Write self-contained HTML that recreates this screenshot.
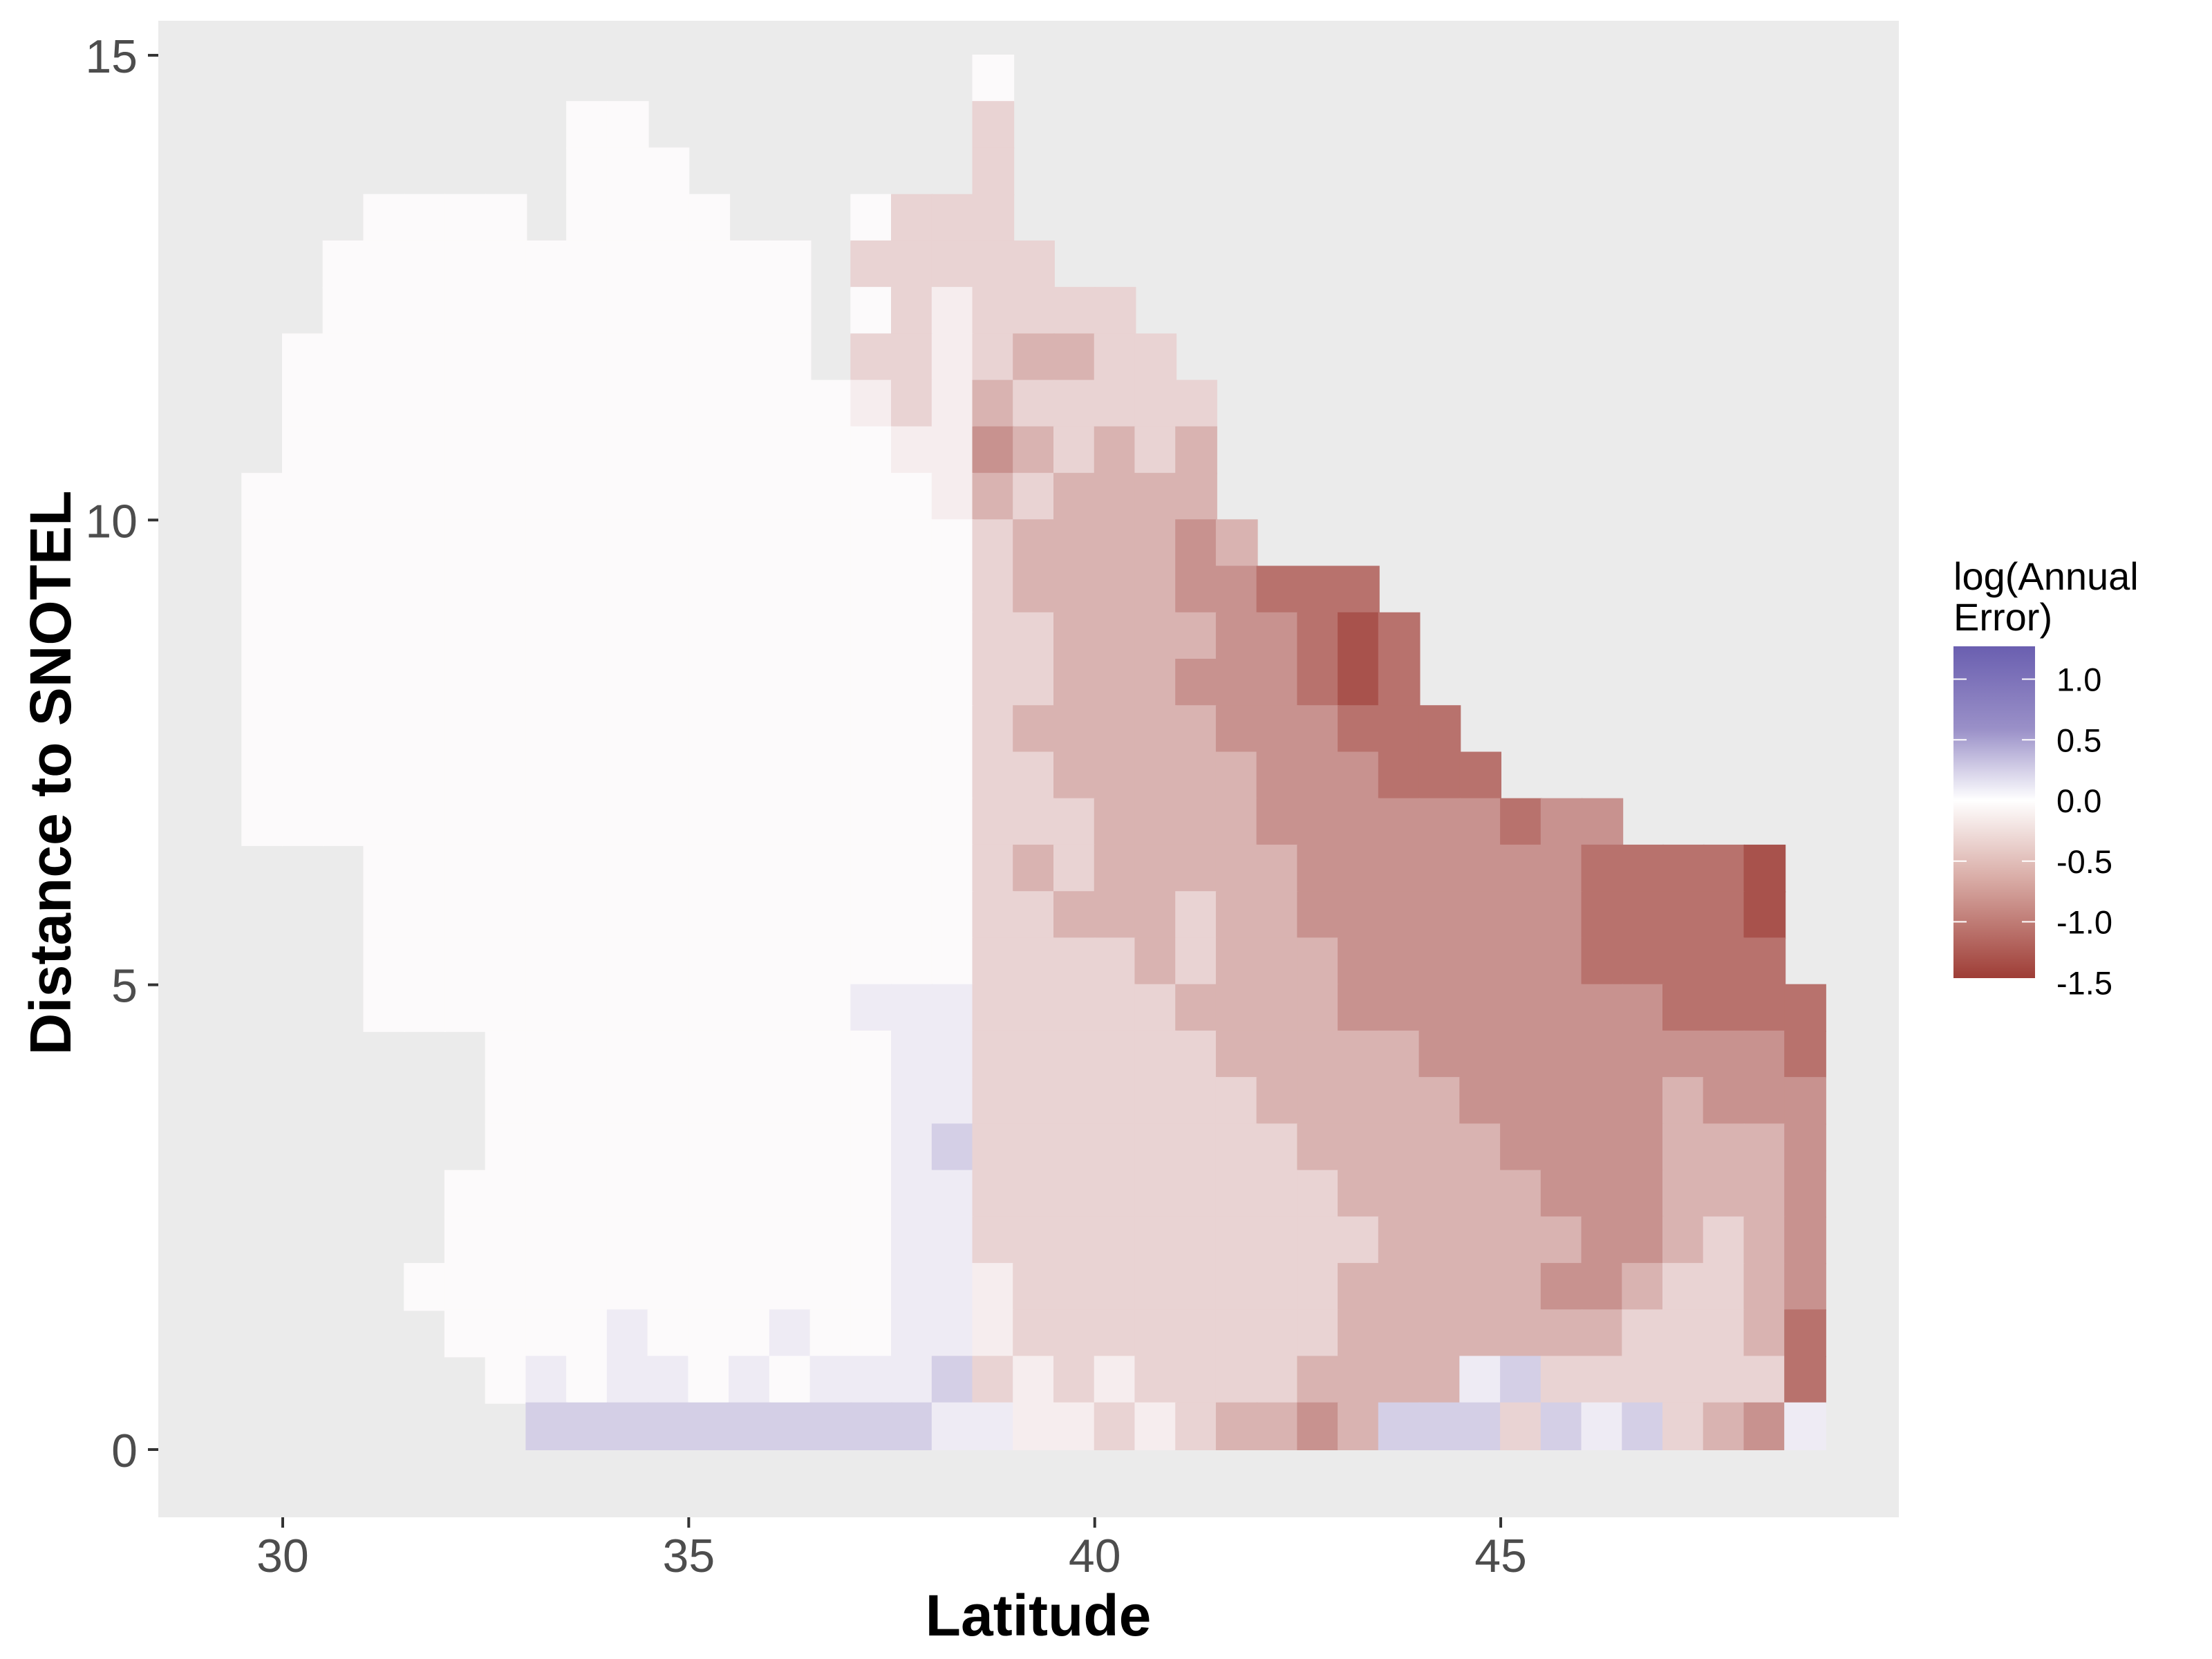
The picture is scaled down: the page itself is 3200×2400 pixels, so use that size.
<!DOCTYPE html>
<html><head><meta charset="utf-8"><style>
html,body{margin:0;padding:0;background:#fff;}
svg{display:block;font-family:"Liberation Sans",Arial,sans-serif;}
</style></head><body>
<svg id="chart" width="3200" height="2400" viewBox="0 0 3200 2400">
<rect x="0" y="0" width="3200" height="2400" fill="#ffffff"/>
<rect x="229" y="30" width="2518" height="2165" fill="#ebebeb"/>
<g id="cells"></g>
<g id="axes"></g>
<text x="1502" y="2366" text-anchor="middle" font-size="84" font-weight="bold" fill="#000">Latitude</text>
<text transform="translate(102,1118) rotate(-90)" text-anchor="middle" font-size="84" font-weight="bold" fill="#000">Distance to SNOTEL</text>
<g id="legend">
<text x="2826" y="853" font-size="56" fill="#000">log(Annual</text>
<text x="2826" y="912" font-size="56" fill="#000">Error)</text>
<defs><linearGradient id="lg" x1="0" y1="0" x2="0" y2="1">
<stop offset="0" stop-color="#6a5fb0"/><stop offset="0.25" stop-color="#9a90c8"/><stop offset="0.464" stop-color="#ffffff"/><stop offset="0.7" stop-color="#d9aca6"/><stop offset="1" stop-color="#9e3d36"/>
</linearGradient></defs>
<rect x="2826" y="935" width="118" height="480" fill="url(#lg)"/>
<g id="legticks"></g>
</g>
</svg>
<script>
// Grid cells: latitude columns start 29.5 step 0.5; distance rows top 15 step 0.5 downward
const latStart = 29.5, latStep = 0.5;
const distTop = 15, distStep = 0.5;
const codeKeys = ['0','w','1','2','3','4','5','p','q'];
const codeValues = [0, -0.1, -0.3, -0.55, -0.8, -1.05, -1.3, 0.12, 0.35];
const gridRows = [
"..................0....................",
"........00........1....................",
"........000.......1....................",
"...0000.0000...0111....................",
"..000000000000.11111...................",
"..000000000000.01w1111.................",
".0000000000000.11w12211................",
".00000000000000w1w211111...............",
".000000000000000ww321212...............",
"00000000000000000w212222...............",
"0000000000000000001222232..............",
"0000000000000000001222233444...........",
"00000000000000000011222233454..........",
"00000000000000000011222333454..........",
"000000000000000000122222333444.........",
"0000000000000000001122222333444........",
"0000000000000000001112222333333433.....",
"...00000000000000012122222333333344445.",
"...00000000000000011222122333333344445.",
"...00000000000000011112122233333344444.",
"...000000000000ppp111112222333333334444",
"......0000000000pp111111222223333333334",
"......0000000000pp111111122222333332333",
"......0000000000pq111111112222233332223",
".....00000000000pp111111111222223332223",
".....00000000000pp111111111122222332123",
"....000000000000ppw11111111222223321123",
".....0000p000p00ppw11111111222222211124",
"......0p0pp0p0pppq1w1w11112222pq1111114",
".......qqqqqqqqqqppww1w12232qqq1qpq123p"
];
const yTicks = [0, 5, 10, 15];
const xTicks = [30, 35, 40, 45];
const legendTicks = [1.0, 0.5, 0.0, -0.5, -1.0, -1.5];
const legendLabels = ["1.0", "0.5", "0.0", "-0.5", "-1.0", "-1.5"];

const NS = "http://www.w3.org/2000/svg";
function xScale(lat){ return 409 + (lat - 30) * 117.47; }
function yScale(d){ return 2097 - d * 134.47; }
function legY(v){ return 1158 - v * 175.5; }
function mix(a, b, t){ return a.map((c,i)=>Math.round(c + (b[i]-c)*t)); }
function colorFor(v){
  const W=[252,250,251], B=[106,95,176], R=[158,61,54];
  const c = v >= 0 ? mix(W, B, Math.min(1, v/1.27)) : mix(W, R, Math.min(1, -v/1.46));
  return "rgb(" + c.join(",") + ")";
}
const cells = document.getElementById("cells");
gridRows.forEach((row, r) => {
  for (let i = 0; i < row.length; i++) {
    const k = codeKeys.indexOf(row[i]);
    if (k < 0) continue;
    const v = codeValues[k];
    const lat0 = latStart + i * latStep, lat1 = lat0 + latStep;
    const dTop = distTop - r * distStep, dBot = dTop - distStep;
    const x0 = xScale(lat0), x1 = xScale(lat1), y0 = yScale(dTop), y1 = yScale(dBot);
    const rc = document.createElementNS(NS, "rect");
    rc.setAttribute("x", (x0 - 1).toFixed(1));
    rc.setAttribute("y", (y0 - 1).toFixed(1));
    rc.setAttribute("width", (x1 - x0 + 2).toFixed(1));
    rc.setAttribute("height", (y1 - y0 + 2).toFixed(1));
    rc.setAttribute("fill", colorFor(v));
    
    
    cells.appendChild(rc);
  }
});
const axes = document.getElementById("axes");
yTicks.forEach(t => {
  const y = yScale(t);
  const ln = document.createElementNS(NS, "line");
  ln.setAttribute("x1", 214); ln.setAttribute("x2", 229);
  ln.setAttribute("y1", y); ln.setAttribute("y2", y);
  ln.setAttribute("stroke", "#333"); ln.setAttribute("stroke-width", 4);
  
  
  axes.appendChild(ln);
  const tx = document.createElementNS(NS, "text");
  tx.setAttribute("x", 199); tx.setAttribute("y", y + 25);
  tx.setAttribute("text-anchor", "end"); tx.setAttribute("font-size", 68);
  tx.setAttribute("fill", "#4d4d4d");
  tx.textContent = String(t);
  
  
  axes.appendChild(tx);
});
xTicks.forEach(t => {
  const x = xScale(t);
  const ln = document.createElementNS(NS, "line");
  ln.setAttribute("x1", x); ln.setAttribute("x2", x);
  ln.setAttribute("y1", 2195); ln.setAttribute("y2", 2210);
  ln.setAttribute("stroke", "#333"); ln.setAttribute("stroke-width", 4);
  
  
  axes.appendChild(ln);
  const tx = document.createElementNS(NS, "text");
  tx.setAttribute("x", x); tx.setAttribute("y", 2274);
  tx.setAttribute("text-anchor", "middle"); tx.setAttribute("font-size", 68);
  tx.setAttribute("fill", "#4d4d4d");
  tx.textContent = String(t);
  
  
  axes.appendChild(tx);
});
const lt = document.getElementById("legticks");
legendTicks.forEach((v, i) => {
  const y = legY(v);
  if (v > -1.45) {
    [[2826, 2845], [2925, 2944]].forEach(p => {
      const ln = document.createElementNS(NS, "line");
      ln.setAttribute("x1", p[0]); ln.setAttribute("x2", p[1]);
      ln.setAttribute("y1", y); ln.setAttribute("y2", y);
      ln.setAttribute("stroke", "#fff"); ln.setAttribute("stroke-width", 2);
      
      
      lt.appendChild(ln);
    });
  }
  const tx = document.createElementNS(NS, "text");
  tx.setAttribute("x", 2975); tx.setAttribute("y", y + 17);
  tx.setAttribute("font-size", 47); tx.setAttribute("fill", "#000");
  tx.textContent = legendLabels[i];
  
  
  lt.appendChild(tx);
});
</script>
</body></html>
